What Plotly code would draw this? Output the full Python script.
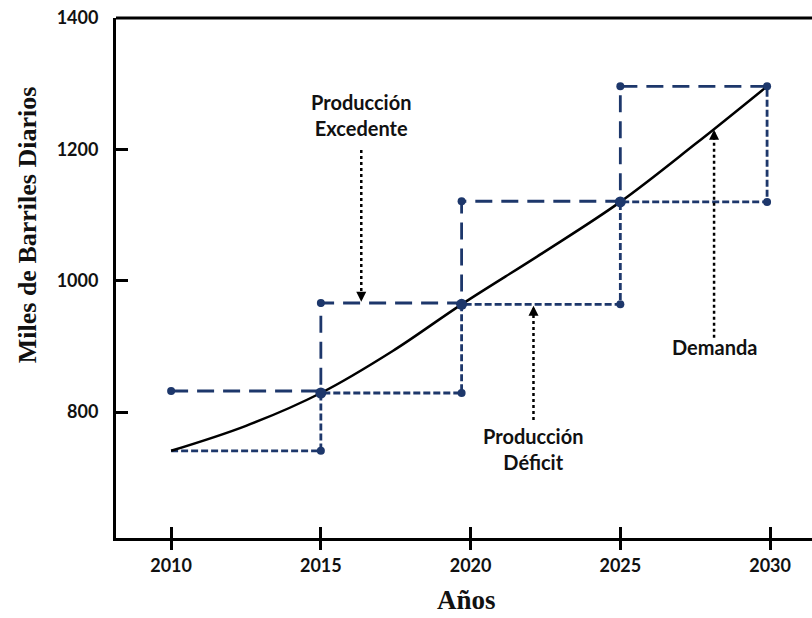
import plotly.graph_objects as go

# ---- data ----
years_ticks = [2010, 2015, 2020, 2025, 2030]
y_ticks = [800, 1000, 1200, 1400]

# Producción Excedente (long dashes)
exc_x = [2010, 2015, 2015, 2019.7, 2019.7, 2025, 2025, 2029.9]
exc_y = [832, 832, 966, 966, 1121, 1121, 1296, 1296]
exc_mx = [2010, 2015, 2019.7, 2025, 2029.9]
exc_my = [832, 966, 1121, 1296, 1296]

# Producción Déficit (short dashes)
def_x = [2010, 2015, 2015, 2019.7, 2019.7, 2025, 2025, 2029.9, 2029.9]
def_y = [741, 741, 829, 829, 964, 964, 1120, 1120, 1296]
def_mx = [2015, 2019.7, 2025, 2029.9]
def_my = [741, 829, 964, 1120]

# junction points (larger dots)
jun_x = [2015, 2019.7, 2025]
jun_y = [829, 964, 1120]

# Demanda
dem_x = [2010, 2012.5, 2015, 2017.4, 2019.7, 2022.4, 2025, 2027.5, 2029.9]
dem_y = [741, 779, 829, 893, 964, 1042, 1120, 1208, 1296]

# annotation arrows: (x, y_start, y_end)
arrows = [
    (2016.35, 1199, 972),   # Excedente (down)
    (2022.1, 788, 958),     # Déficit (up)
    (2028.13, 913, 1226),   # Demanda (up)
]
labels = [
    (2016.35, 1252, "Producción<br>Excedente"),
    (2022.1, 744, "Producción<br>Déficit"),
    (2028.13, 899, "Demanda"),
]

NAVY = "#1d376b"
fig = go.Figure()

fig.add_trace(go.Scatter(x=exc_x, y=exc_y, mode="lines",
                         line=dict(color=NAVY, width=2.8, dash="17px,9px"),
                         hoverinfo="skip", showlegend=False))
fig.add_trace(go.Scatter(x=def_x, y=def_y, mode="lines",
                         line=dict(color=NAVY, width=2.8, dash="7px,3px"),
                         hoverinfo="skip", showlegend=False))
fig.add_trace(go.Scatter(x=dem_x, y=dem_y, mode="lines",
                         line=dict(color="black", width=2.5, shape="spline", smoothing=1.0),
                         hoverinfo="skip", showlegend=False))
fig.add_trace(go.Scatter(x=exc_mx, y=exc_my, mode="markers",
                         marker=dict(color=NAVY, size=8), showlegend=False, hoverinfo="skip"))
fig.add_trace(go.Scatter(x=def_mx, y=def_my, mode="markers",
                         marker=dict(color=NAVY, size=8), showlegend=False, hoverinfo="skip"))
fig.add_trace(go.Scatter(x=jun_x, y=jun_y, mode="markers",
                         marker=dict(color=NAVY, size=11), showlegend=False, hoverinfo="skip"))

for ax_, y0, y1 in arrows:
    fig.add_trace(go.Scatter(x=[ax_, ax_], y=[y0, y1], mode="lines",
                             line=dict(color="black", width=2.5, dash="dot"),
                             showlegend=False, hoverinfo="skip"))
    down = y1 < y0
    fig.add_annotation(x=ax_, y=y1 + (-4 if down else 4), text="",
                       showarrow=True, arrowhead=2, arrowsize=1, arrowwidth=2,
                       arrowcolor="black", ax=0, ay=(-10 if down else 10))

for lx, ly, txt in labels:
    fig.add_annotation(x=lx, y=ly, text=txt, showarrow=False,
                       font=dict(family="Lato", size=20, color="#111111", weight="bold"))

# invisible trace for overlay axis
fig.add_trace(go.Scatter(x=[2010], y=[800], xaxis="x2", mode="markers",
                         marker=dict(opacity=0), showlegend=False, hoverinfo="skip"))

xr = [2008.16, 2031.4]
fig.update_layout(
    width=812, height=618,
    margin=dict(l=116, r=0, t=18, b=80),
    paper_bgcolor="white", plot_bgcolor="white",
    xaxis=dict(range=xr, tickvals=years_ticks, ticks="outside", ticklen=9, tickwidth=2.5,
               tickcolor="black", showline=True, linecolor="black", linewidth=3,
               showgrid=False, zeroline=False, ticklabelstandoff=0, automargin=False,
               ticklabeloverflow="allow",
               tickfont=dict(family="Lato", size=18, color="#111111", weight="bold")),
    xaxis2=dict(range=xr, overlaying="x", anchor="y", side="bottom", tickvals=years_ticks,
                ticks="inside", ticklen=11, tickwidth=2.5, tickcolor="black", automargin=False,
                showticklabels=False, showgrid=False, zeroline=False, showline=False),
    yaxis=dict(range=[608.2, 1400], tickvals=y_ticks, ticks="inside", ticklen=12, tickwidth=2.5,
               tickcolor="black", showline=True, linecolor="black", linewidth=3,
               showgrid=False, zeroline=False, ticklabelstandoff=11, automargin=False,
               ticklabeloverflow="allow",
               tickfont=dict(family="Lato", size=18, color="#111111", weight="bold")),
    shapes=[dict(type="line", xref="paper", yref="paper", x0=0, x1=1, y0=1, y1=1,
                 line=dict(color="black", width=3))],
)

fig.add_annotation(xref="paper", yref="paper", x=0.504, y=-0.12, text="Años", showarrow=False,
                   xanchor="center", yanchor="middle",
                   font=dict(family="Liberation Serif", size=27, color="#111111", weight="bold"))
fig.add_annotation(xref="paper", yref="paper", x=-0.126, y=0.602, text="Miles de Barriles Diarios",
                   showarrow=False, textangle=-90, xanchor="center", yanchor="middle",
                   font=dict(family="Liberation Serif", size=26, color="#111111", weight="bold"))

fig.write_html("out.html", config={"displayModeBar": False},
               post_script="document.body.style.margin='0';document.body.style.overflow='hidden';")
